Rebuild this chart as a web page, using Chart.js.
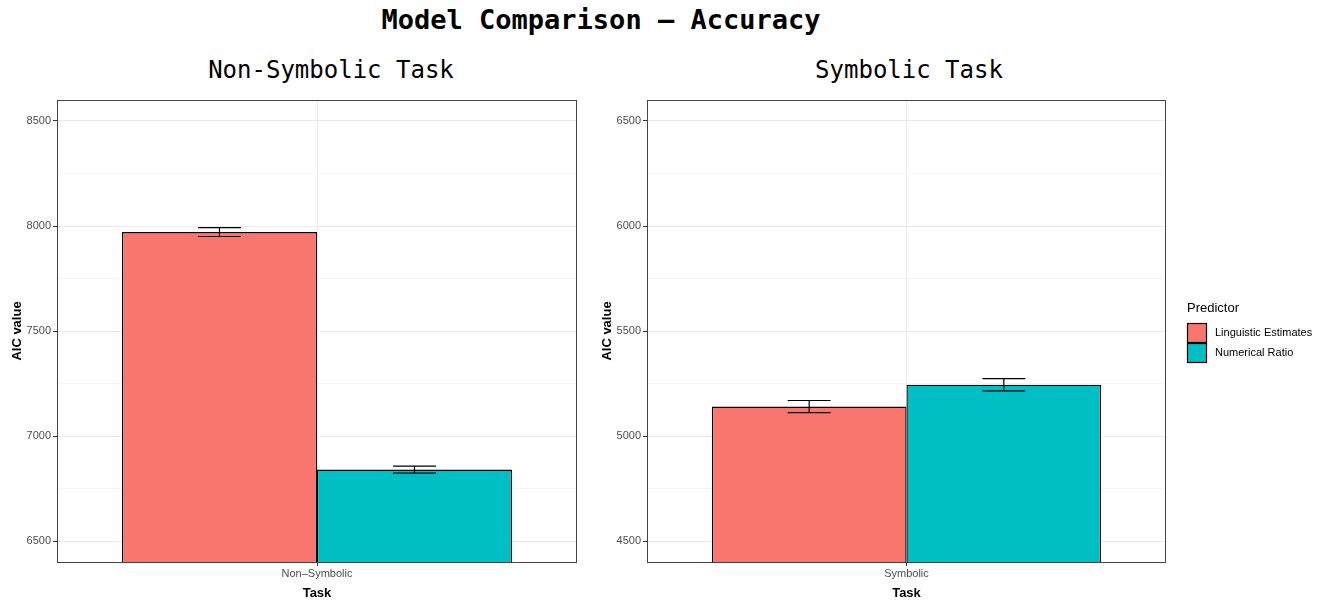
<!DOCTYPE html>
<html lang="en">
  <head>
    <meta charset="UTF-8" />
    <title>Model Comparison - Accuracy</title>
    <script src="https://cdn.jsdelivr.net/npm/chart.js"></script>
    <style>
      body { margin: 0; background: #fff; width: 1321px; height: 601px; position: relative; overflow: hidden; }
      #title {
        position: absolute; left: 0; width: 1202px; top: 4px; text-align: center;
        font: bold 27px "DejaVu Sans Mono", monospace; color: #000;
      }
      .sub {
        position: absolute; top: 56px; width: 400px; line-height: 28px; text-align: center;
        font: 24px "DejaVu Sans Mono", monospace; color: #000;
      }
      .panel { position: absolute; top: 40px; height: 561px; }
    </style>
  </head>
  <body>
    <div id="title">Model Comparison – Accuracy</div>
    <div class="sub" style="left: 131px">Non-Symbolic Task</div>
    <div class="sub" style="left: 709px">Symbolic Task</div>
    <div class="panel" style="left: 0; width: 590px"><canvas id="left"></canvas></div>
    <div class="panel" style="left: 590px; width: 731px"><canvas id="right"></canvas></div>

    <script>
      // data
      const predictors = ["Linguistic Estimates", "Numerical Ratio"];
      const nonSymTask = ["Non–Symbolic"];
      const nonSymAIC = [7971, 6840];
      const nonSymErr = [21, 17];
      const nonSymTicks = [6500, 6750, 7000, 7250, 7500, 7750, 8000, 8250, 8500];
      const symTask = ["Symbolic"];
      const symAIC = [5140, 5244];
      const symErr = [29, 29];
      const symTicks = [4500, 4750, 5000, 5250, 5500, 5750, 6000, 6250, 6500];
      const colors = ["#F8766D", "#00BFC4"];

      const tickFont = { family: "Liberation Sans", size: 11 };
      const titleFont = { family: "Liberation Sans", size: 13, weight: "bold" };

      // error bars + panel border
      const errorBars = {
        id: "errorBars",
        afterDatasetsDraw(chart, args, opts) {
          const { ctx, chartArea: a, scales } = chart;
          ctx.save();
          ctx.strokeStyle = "#000";
          ctx.lineWidth = 1.2;
          chart.data.datasets.forEach((ds, i) => {
            chart.getDatasetMeta(i).data.forEach((bar, j) => {
              const v = ds.data[j], e = opts.err[i];
              const hi = scales.y.getPixelForValue(v + e);
              const lo = scales.y.getPixelForValue(v - e);
              const hw = bar.width * 0.11;
              ctx.beginPath();
              ctx.moveTo(bar.x - hw, hi); ctx.lineTo(bar.x + hw, hi);
              ctx.moveTo(bar.x, hi); ctx.lineTo(bar.x, lo);
              ctx.moveTo(bar.x - hw, lo); ctx.lineTo(bar.x + hw, lo);
              ctx.stroke();
            });
          });
          ctx.strokeStyle = "#444";
          ctx.lineWidth = 1;
          ctx.strokeRect(a.left + 0.5, a.top + 0.5, a.right - a.left - 1, a.bottom - a.top);
          ctx.restore();
        },
      };

      // ggplot-style legend to the right of the panel
      const sideLegend = {
        id: "sideLegend",
        afterDraw(chart, args, opts) {
          if (!opts.show) return;
          const { ctx, chartArea: a } = chart;
          const x = a.right + 21;
          const y = a.top + (a.bottom - a.top) / 2 - 30;
          ctx.save();
          ctx.fillStyle = "#000";
          ctx.textBaseline = "middle";
          ctx.font = "13px Liberation Sans";
          ctx.fillText("Predictor", x, y + 7);
          chart.data.datasets.forEach((ds, i) => {
            const by = y + 22 + i * 20;
            ctx.fillStyle = ds.backgroundColor;
            ctx.fillRect(x, by, 20, 20);
            ctx.strokeStyle = "#000";
            ctx.lineWidth = 1.2;
            ctx.strokeRect(x + 0.5, by + 0.5, 19, 19);
            ctx.fillStyle = "#000";
            ctx.font = "11px Liberation Sans";
            ctx.fillText(ds.label, x + 28, by + 10);
          });
          ctx.restore();
        },
      };

      function makeChart(id, task, values, errs, ticks, min, max, legend) {
        new Chart(document.getElementById(id), {
          type: "bar",
          data: {
            labels: task,
            datasets: predictors.map((p, i) => ({
              label: p,
              data: [values[i]],
              backgroundColor: colors[i],
              borderColor: "#000",
              borderWidth: 1.3,
              borderSkipped: false,
              categoryPercentage: 0.75,
              barPercentage: 1.0,
            })),
          },
          options: {
            responsive: true,
            maintainAspectRatio: false,
            animation: false,
            layout: { padding: { top: 60, right: legend ? 155 : 13, left: 0, bottom: 0 } },
            plugins: {
              legend: { display: false },
              tooltip: { enabled: false },
              errorBars: { err: errs },
              sideLegend: { show: legend },
            },
            scales: {
              x: {
                grid: { offset: false, color: "#EBEBEB", tickColor: "#333", tickLength: 4 },
                border: { display: false },
                ticks: { color: "#4D4D4D", font: tickFont, padding: 1 },
                title: { display: true, text: "Task", color: "#000", font: titleFont, padding: { top: 4, bottom: 0 } },
                afterFit: (s) => { s.height = 39; },
              },
              y: {
                min: min,
                max: max,
                afterBuildTicks: (s) => { s.ticks = ticks.map((v) => ({ value: v })); },
                grid: {
                  color: (c) => (c.tick && c.tick.value % 500 === 0 ? "#EBEBEB" : "#F4F4F4"),
                  tickColor: (c) => (c.tick && c.tick.value % 500 === 0 ? "#333" : "rgba(0,0,0,0)"),
                  tickLength: 4,
                },
                border: { display: false },
                ticks: {
                  color: "#4D4D4D",
                  font: tickFont,
                  padding: 2,
                  autoSkip: false,
                  callback: (v) => (v % 500 === 0 ? String(v) : ""),
                },
                title: { display: true, text: "AIC value", color: "#000", font: titleFont, padding: { top: 10, bottom: 0 } },
                afterFit: (s) => { s.width = 57; },
              },
            },
          },
          plugins: [errorBars, sideLegend],
        });
      }

      makeChart("left", nonSymTask, nonSymAIC, nonSymErr, nonSymTicks, 6400, 8600, false);
      makeChart("right", symTask, symAIC, symErr, symTicks, 4400, 6600, true);
    </script>
  </body>
</html>
